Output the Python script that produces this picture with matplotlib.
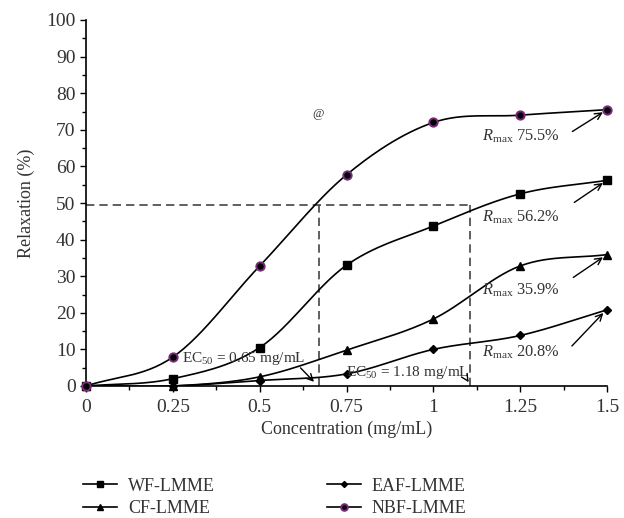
import numpy as np
import matplotlib
matplotlib.use("Agg")
import matplotlib.pyplot as plt
from matplotlib.lines import Line2D

plt.rcParams['font.family'] = ['Liberation Serif', 'DejaVu Serif']
plt.rcParams['mathtext.fontset'] = 'custom'
plt.rcParams['mathtext.rm'] = 'Liberation Serif'
plt.rcParams['mathtext.it'] = 'Liberation Serif:italic'

conc = [0, 0.25, 0.5, 0.75, 1.0, 1.25, 1.5]
wf = [0, 2.0, 10.5, 33.0, 43.7, 52.5, 56.2]
cf = [0, 0.0, 2.5, 9.8, 18.3, 32.8, 35.9]
eaf = [0, 0.0, 1.5, 3.3, 10.0, 13.8, 20.8]
nbf = [0, 7.9, 32.8, 57.7, 72.0, 74.0, 75.5]

labels = ["WF-LMME", "CF-LMME", "EAF-LMME", "NBF-LMME"]
xticks = [0, 0.25, 0.5, 0.75, 1, 1.25, 1.5]
xticklabels = ["0", "0.25", "0.5", "0.75", "1", "1.25", "1.5"]

ec50_level = 49.5
ec50_x1 = 0.67
ec50_x2 = 1.105

def smooth(x, y, n=30):
    x = np.asarray(x, float); y = np.asarray(y, float)
    px = np.concatenate([[2*x[0]-x[1]], x, [2*x[-1]-x[-2]]])
    py = np.concatenate([[2*y[0]-y[1]], y, [2*y[-1]-y[-2]]])
    xs, ys = [], []
    for i in range(1, len(px)-2):
        t = np.linspace(0, 1, n, endpoint=False)
        p0, p1, p2, p3 = py[i-1], py[i], py[i+1], py[i+2]
        m1 = (p2 - p0) / 2.0
        m2 = (p3 - p1) / 2.0
        h00 = 2*t**3 - 3*t**2 + 1
        h10 = t**3 - 2*t**2 + t
        h01 = -2*t**3 + 3*t**2
        h11 = t**3 - t**2
        ys.append(h00*p1 + h10*m1 + h01*p2 + h11*m2)
        xs.append(px[i] + t*(px[i+1]-px[i]))
    xs.append([x[-1]]); ys.append([y[-1]])
    return np.concatenate(xs), np.concatenate(ys)

fig = plt.figure(figsize=(6.24, 5.18), dpi=100)
ax = fig.add_axes([86/624, 1-386/518, (607-86)/624, (386-20)/518])

txtc = '#333333'
purple = '#7a2a7a'
series = [
    (wf, dict(marker='s', ms=5.5, mfc='black', mec='black')),
    (cf, dict(marker='^', ms=6, mfc='black', mec='black')),
    (eaf, dict(marker='D', ms=3.8, mfc='black', mec='black')),
    (nbf, dict(marker='o', ms=6, mfc='black', mec=purple, mew=1.4)),
]
handles = []
for (ys, st), lab in zip(series, labels):
    sx, sy = smooth(conc, ys)
    ax.plot(sx, sy, color='black', lw=1.2, zorder=2)
    ax.plot(conc, ys, ls='none', zorder=3, clip_on=False, **st)
    handles.append(Line2D([], [], color='black', lw=1.2, label=lab,
                          **{k: (v*0.8 if k == 'ms' else v) for k, v in st.items()}))

dash = dict(color='#444444', lw=1.2, ls=(0, (5, 3)), zorder=1)
ax.plot([0, ec50_x2], [ec50_level, ec50_level], **dash)
ax.plot([ec50_x1, ec50_x1], [0, ec50_level], **dash)
ax.plot([ec50_x2, ec50_x2], [0, ec50_level], **dash)

ann = dict(fontsize=11, color=txtc)
ax.text(0.275, 7.6, r"EC$_{50}$ = 0.65 mg/mL", va='center', ha='left', **ann)
ax.text(0.75, 3.8, r"EC$_{50}$ = 1.18 mg/mL", va='center', ha='left', **ann)
arr = dict(arrowstyle='->', color='black', lw=1.0, mutation_scale=12)
ax.annotate("", xy=(0.662, 0.6), xytext=(0.612, 5.5), arrowprops=arr)
ax.annotate("", xy=(1.106, 0.4), xytext=(1.094, 2.2), arrowprops=arr)

rmax = [(75.5, 136.5, (570, 133)), (56.2, 217, (572, 204)), (35.9, 290, (571, 279)), (20.8, 352, (570, 348))]
def dx(p): return (p-86)/(607-86)*1.5
def dy(p): return (386-p)/3.66
for val, ty, (ax0, ay0) in rmax:
    ax.text(dx(482), dy(ty), r"$\mathit{R}_{\mathrm{max}}$ " + f"{val}%", va='center', ha='left',
            fontsize=11.8, color=txtc)
    ax.annotate("", xy=(1.495, val - 0.3), xytext=(dx(ax0), dy(ay0)), arrowprops=arr)

ax.text(dx(318), dy(114), "@", fontsize=9, color=txtc, ha='center', va='center')

ax.set_xlim(0, 1.5)
ax.set_ylim(0, 100)
ax.set_xticks(xticks)
ax.set_xticklabels(xticklabels)
ax.set_xticks(np.arange(0.125, 1.5, 0.25), minor=True)
ax.set_yticks(np.arange(0, 101, 10))
ax.set_yticks(np.arange(5, 100, 10), minor=True)
for s in ['top', 'right']:
    ax.spines[s].set_visible(False)
for s in ['left', 'bottom']:
    ax.spines[s].set_linewidth(1.2)
ax.tick_params(which='major', direction='out', length=4, width=1, labelsize=14, labelcolor=txtc)
ax.tick_params(which='minor', direction='out', length=3, width=1)
ax.tick_params(axis='x', pad=5)
ax.set_xlabel("Concentration (mg/mL)", fontsize=13, color=txtc, labelpad=4)
ax.set_ylabel("Relaxation (%)", fontsize=13, color=txtc, labelpad=8)

fig.legend(handles=handles, ncol=2, loc='upper left', bbox_to_anchor=(70/624, 1-465/518),
           frameon=False, fontsize=13, handlelength=1.9, columnspacing=6.2,
           labelspacing=0.3, handletextpad=0.6, labelcolor=txtc, borderpad=0.2)

fig.savefig("out.png", dpi=100)
